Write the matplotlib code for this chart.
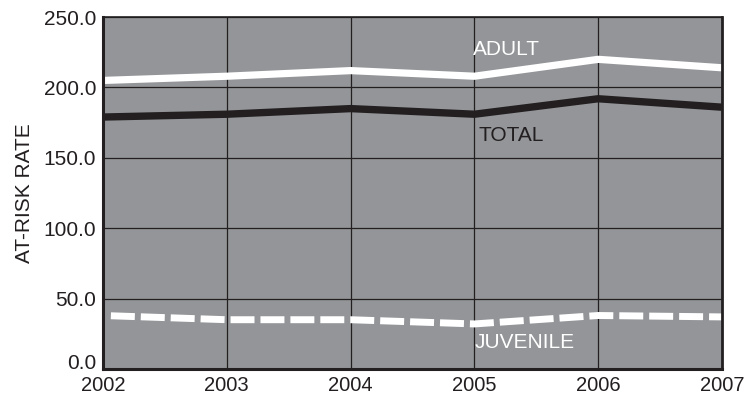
import matplotlib
matplotlib.use("Agg")
import matplotlib.pyplot as plt

years = [2002, 2003, 2004, 2005, 2006, 2007]
adult = [205, 208, 212, 208, 220, 214]
total = [179, 181, 185, 181, 192, 186]
juvenile = [38, 35, 35, 32, 38, 37]
yticks = [0, 50, 100, 150, 200, 250]

plt.rcParams['font.family'] = ['Liberation Sans', 'DejaVu Sans']
ink = '#231f20'
fs = 15
fig = plt.figure(figsize=(7.44, 3.98), dpi=100)
ax = fig.add_axes([0.1384, 0.0729, 0.9704 - 0.1384, 0.957 - 0.0729])
ax.set_facecolor('#939598')
ax.set_xlim(2002, 2007)
ax.set_ylim(0, 250)
ax.set_xticks(years)
ax.set_yticks(yticks)
ax.set_yticklabels([f"{v:.1f}" for v in yticks])
ax.grid(True, color=ink, linewidth=0.9)
ax.set_axisbelow(True)
ax.tick_params(length=0, labelsize=fs, colors=ink)
ax.tick_params(axis='y', pad=5)
ax.tick_params(axis='x', pad=5, labelsize=14.5)
for s in ['left', 'bottom']:
    ax.spines[s].set_linewidth(2.2)
ax.spines['right'].set_linewidth(2.0)
ax.spines['top'].set_linewidth(1.2)
for s in ax.spines.values():
    s.set_color(ink)
    s.set_zorder(5)

ax.plot(years, adult, color='white', linewidth=5.2, solid_capstyle='butt', zorder=3)
ax.plot(years, total, color=ink, linewidth=5.3, solid_capstyle='butt', zorder=3)
ax.plot(years, juvenile, color='white', linewidth=5.0,
        linestyle=(3.17, (3.45, 0.86)), dash_capstyle='butt', zorder=3)

ax.text(2004.99, 227, 'ADULT', color='white', fontsize=fs, ha='left', va='center')
ax.text(2005.03, 166, 'TOTAL', color=ink, fontsize=fs, ha='left', va='center')
ax.text(2005.0, 19, 'JUVENILE', color='white', fontsize=fs, ha='left', va='center')

ax.set_ylabel('AT-RISK RATE', fontsize=fs, color=ink, labelpad=7)

fig.canvas.draw()
ylabels = ax.get_yticklabels()
ylabels[0].set_va('baseline')

fig.savefig('out.png', dpi=100)
